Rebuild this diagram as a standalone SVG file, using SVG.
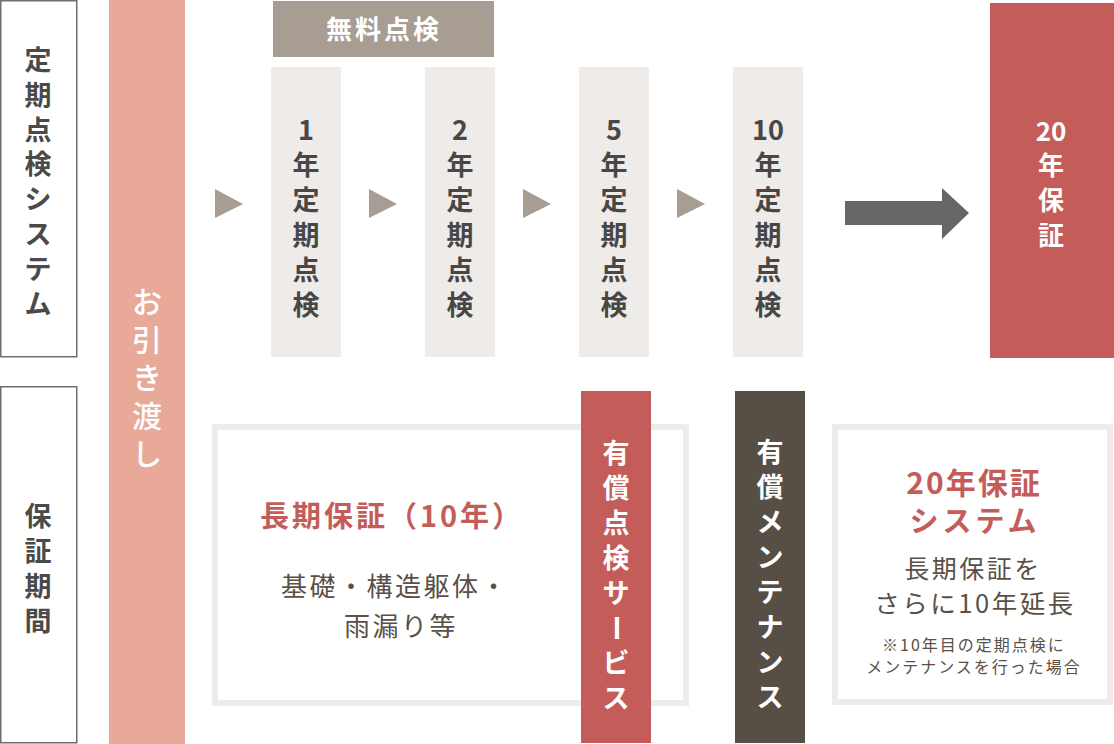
<svg xmlns="http://www.w3.org/2000/svg" width="1114" height="744" viewBox="0 0 1114 744">
<style>
text{font-family:"Noto Sans CJK JP","Noto Sans",sans-serif;text-anchor:middle}
.lab{font-size:27px;font-weight:700;fill:#4a4a4a}
.col{font-size:27px;font-weight:700;fill:#474747}
.wb{font-size:27px;font-weight:700;fill:#ffffff}
.red{fill:#c45d59;font-weight:700}
.brn{fill:#5a5048;font-weight:400}
.colbg{fill:#eeebe8}
.tri{fill:#a89d93}
.frame{fill:none;stroke:#eeebe8;stroke-width:6}
.lbox{fill:#ffffff;stroke:#6e6e6e;stroke-width:1.5}
</style>
<rect width="1114" height="744" fill="#ffffff"/>

<g id="label-system">
<rect class="lbox" x="0.75" y="0.75" width="76" height="356"/>
<text class="lab"><tspan x="38" y="70">定</tspan><tspan x="38" y="104.8">期</tspan><tspan x="38" y="139.6">点</tspan><tspan x="38" y="174.4">検</tspan><tspan x="38" y="209.2">シ</tspan><tspan x="38" y="244">ス</tspan><tspan x="38" y="278.8">テ</tspan><tspan x="38" y="313.6">ム</tspan></text>
</g>

<g id="label-period">
<rect class="lbox" x="0.75" y="386.75" width="76" height="356"/>
<text class="lab"><tspan x="38" y="526">保</tspan><tspan x="38" y="561">証</tspan><tspan x="38" y="596">期</tspan><tspan x="38" y="631">間</tspan></text>
</g>

<g id="handover">
<rect x="109" y="0" width="76" height="744" fill="#e8a998"/>
<text style="font-size:30px;font-weight:500;fill:#ffffff"><tspan x="147" y="313">お</tspan><tspan x="147" y="351">引</tspan><tspan x="147" y="389">き</tspan><tspan x="147" y="427">渡</tspan><tspan x="147" y="465">し</tspan></text>
</g>

<g id="free-inspection">
<rect x="273" y="1" width="221" height="56" fill="#a89d93"/>
<text style="font-size:26px;font-weight:700;fill:#ffffff;letter-spacing:3px" x="384" y="39">無料点検</text>
</g>

<g id="inspect-1">
<rect class="colbg" x="271" y="67" width="70" height="290"/>
<text class="col"><tspan x="306" y="140">1</tspan><tspan x="306" y="175">年</tspan><tspan x="306" y="210">定</tspan><tspan x="306" y="245">期</tspan><tspan x="306" y="280">点</tspan><tspan x="306" y="315">検</tspan></text>
</g>
<g id="inspect-2">
<rect class="colbg" x="425" y="67" width="70" height="290"/>
<text class="col"><tspan x="460" y="140">2</tspan><tspan x="460" y="175">年</tspan><tspan x="460" y="210">定</tspan><tspan x="460" y="245">期</tspan><tspan x="460" y="280">点</tspan><tspan x="460" y="315">検</tspan></text>
</g>
<g id="inspect-5">
<rect class="colbg" x="579" y="67" width="70" height="290"/>
<text class="col"><tspan x="614" y="140">5</tspan><tspan x="614" y="175">年</tspan><tspan x="614" y="210">定</tspan><tspan x="614" y="245">期</tspan><tspan x="614" y="280">点</tspan><tspan x="614" y="315">検</tspan></text>
</g>
<g id="inspect-10">
<rect class="colbg" x="733" y="67" width="70" height="290"/>
<text class="col"><tspan x="768" y="140">10</tspan><tspan x="768" y="175">年</tspan><tspan x="768" y="210">定</tspan><tspan x="768" y="245">期</tspan><tspan x="768" y="280">点</tspan><tspan x="768" y="315">検</tspan></text>
</g>

<g id="guarantee-20">
<rect x="990" y="3" width="124" height="355" fill="#c45d59"/>
<text class="wb" style="font-size:26px"><tspan x="1051" y="141">20</tspan><tspan x="1051" y="175">年</tspan><tspan x="1051" y="210">保</tspan><tspan x="1051" y="245">証</tspan></text>
</g>

<g id="connectors">
<polygon class="tri" points="215,189 243,204 215,218"/>
<polygon class="tri" points="369,189 397,204 369,218"/>
<polygon class="tri" points="523,189 551,204 523,218"/>
<polygon class="tri" points="677,189 705,204 677,218"/>
<polygon fill="#666666" points="845,201 942,201 942,188 969,213 942,239 942,225 845,225"/>
</g>

<g id="long-guarantee">
<rect class="frame" x="215" y="427" width="471" height="276"/>
<text class="red" style="font-size:29px;letter-spacing:3px" x="392" y="527">長期保証（10年）</text>
<text class="brn" style="font-size:26px;letter-spacing:2.5px" x="395" y="596">基礎・構造躯体・</text>
<text class="brn" style="font-size:26px;letter-spacing:2.5px" x="401" y="636">雨漏り等</text>
</g>

<g id="paid-inspection">
<rect x="581" y="391" width="70" height="352" fill="#c45d59"/>
<text class="wb"><tspan x="616" y="463">有</tspan><tspan x="616" y="498">償</tspan><tspan x="616" y="533">点</tspan><tspan x="616" y="568">検</tspan><tspan x="616" y="603">サ</tspan></text>
<text class="wb" transform="rotate(90 616 628)" x="616" y="638">ー</text>
<text class="wb"><tspan x="616" y="673">ビ</tspan><tspan x="616" y="708">ス</tspan></text>
</g>

<g id="paid-maintenance">
<rect x="735" y="391" width="70" height="352" fill="#574e45"/>
<text class="wb"><tspan x="770" y="462">有</tspan><tspan x="770" y="497">償</tspan><tspan x="770" y="532">メ</tspan><tspan x="770" y="567">ン</tspan><tspan x="770" y="602">テ</tspan><tspan x="770" y="637">ナ</tspan><tspan x="770" y="672">ン</tspan><tspan x="770" y="707">ス</tspan></text>
</g>

<g id="system-20">
<rect class="frame" x="835" y="427" width="275" height="275"/>
<text class="red" style="font-size:30px;letter-spacing:2px" x="974" y="494">20年保証</text>
<text class="red" style="font-size:29px;letter-spacing:4px" x="975" y="532">システム</text>
<text class="brn" style="font-size:25px;letter-spacing:2.5px" x="973" y="578">長期保証を</text>
<text class="brn" style="font-size:25.5px;letter-spacing:2.5px" x="975" y="613">さらに10年延長</text>
<text class="brn" style="font-size:16px;letter-spacing:2px" x="974" y="651">※10年目の定期点検に</text>
<text class="brn" style="font-size:16px;letter-spacing:2px" x="974" y="673">メンテナンスを行った場合</text>
</g>
</svg>
